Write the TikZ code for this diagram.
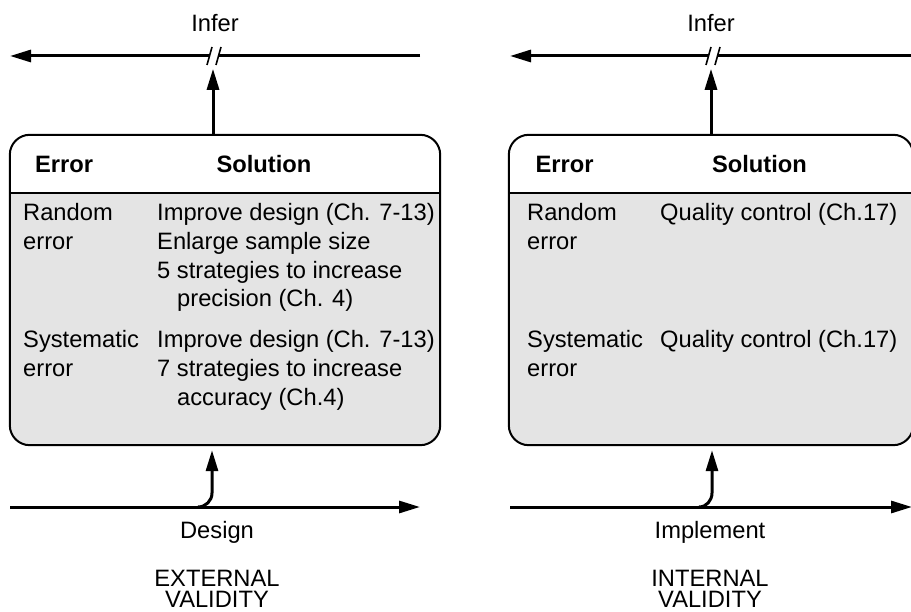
\documentclass[tikz,border=0pt]{standalone}
\usepackage{fontspec}
\setmainfont{Liberation Sans}
\usetikzlibrary{arrows.meta}
\definecolor{boxgray}{HTML}{E4E4E4}
\begin{document}
\begin{tikzpicture}[x=1pt,y=-1pt,
  txt/.style={font=\fontsize{23.7}{28.6}\selectfont, inner sep=0pt},
  hdr/.style={font=\fontsize{23.7}{28.6}\selectfont\bfseries, inner sep=0pt},
  valid/.style={font=\fontsize{23.7}{21}\selectfont, inner sep=0pt, align=center, anchor=south},
  flow/.style={line width=3pt, -{Triangle[length=21pt,width=12pt]}},
  boxshape/.style={fill=boxgray, rounded corners=20pt, inner sep=0pt},
  boxline/.style={line width=2pt, rounded corners=20pt},
  brk/.style={line width=1.6pt}
]
\clip (0,0) rectangle (911,612);

% ---------- left panel ----------
\node[boxshape, minimum width=430pt, minimum height=310pt] (lbox) at (225,290) {};
\begin{scope}
  \clip (lbox.north west) rectangle ([yshift=-58pt]lbox.north east);
  \fill[white, rounded corners=20pt] (lbox.north west) rectangle (lbox.south east);
\end{scope}
\draw[boxline] (lbox.north west) rectangle (lbox.south east);
\draw[line width=2pt] ([yshift=-58pt]lbox.north west) -- ([yshift=-58pt]lbox.north east);

\coordinate (LtopR) at (420,56);
\coordinate (LtopL) at (10,56);
\draw[flow] (LtopR) -- (LtopL);
\fill[white] (207,65) -- (212,47) -- (221,47) -- (216,65) -- cycle;
\draw[brk] (207,65) -- (212,47) (216,65) -- (221,47);
\draw[flow] ([xshift=-12pt]lbox.north) -- ++(0,-66);
\node[txt, anchor=base] (Linfer) at (215,32) {Infer};

\coordinate (LbotL) at (10,507);
\coordinate (LbotR) at (420,507);
\coordinate (LcurveS) at (198,507);
\draw[flow] (LbotL) -- (LbotR);
\draw[flow] (LcurveS) to[out=0,in=-90] (212,493) -- ([xshift=-13pt,yshift=-5pt]lbox.south);

\node[hdr, anchor=base] (Lerr) at (64,173) {Error};
\node[hdr, anchor=base] (Lsol) at (264,173) {Solution};
\node[txt, anchor=base west] (Lr1) at (23,221) {Random};
\node[txt, anchor=base west] (Lr2) at (23,249.6) {error};
\node[txt, anchor=base west] (Ls1) at (157,221) {Improve design (Ch. 7-13)};
\node[txt, anchor=base west] (Ls2) at (157,249.6) {Enlarge sample size};
\node[txt, anchor=base west] (Ls3) at (157,278.2) {5 strategies to increase};
\node[txt, anchor=base west] (Ls4) at (177,306.8) {precision (Ch. 4)};
\node[txt, anchor=base west] (Lq1) at (23,348) {Systematic};
\node[txt, anchor=base west] (Lq2) at (23,376.6) {error};
\node[txt, anchor=base west] (Lt1) at (157,348) {Improve design (Ch. 7-13)};
\node[txt, anchor=base west] (Lt2) at (157,376.6) {7 strategies to increase};
\node[txt, anchor=base west] (Lt3) at (177,405.2) {accuracy (Ch.4)};

\node[txt, anchor=base] (Ldesign) at (217,538) {Design};
\node[valid] (Lext) at (217,608) {EXTERNAL\\VALIDITY};

% ---------- right panel ----------
\node[boxshape, minimum width=404pt, minimum height=310pt] (rbox) at (711,290) {};
\begin{scope}
  \clip (rbox.north west) rectangle ([yshift=-58pt]rbox.north east);
  \fill[white, rounded corners=20pt] (rbox.north west) rectangle (rbox.south east);
\end{scope}
\draw[boxline] (rbox.north west) rectangle (rbox.south east);
\draw[line width=2pt] ([yshift=-58pt]rbox.north west) -- ([yshift=-58pt]rbox.north east);

\coordinate (RtopR) at (915,56);
\coordinate (RtopL) at (510,56);
\draw[flow] (RtopR) -- (RtopL);
\fill[white] (706,65) -- (711,47) -- (720,47) -- (715,65) -- cycle;
\draw[brk] (706,65) -- (711,47) (715,65) -- (720,47);
\draw[flow] (rbox.north) -- ++(0,-66);
\node[txt, anchor=base] (Rinfer) at (711,32) {Infer};

\coordinate (RbotL) at (510,507);
\coordinate (RbotR) at (912,507);
\coordinate (RcurveS) at (699,507);
\draw[flow] (RbotL) -- (RbotR);
\draw[flow] (RcurveS) to[out=0,in=-90] (712,493) -- ([xshift=1pt,yshift=-5pt]rbox.south);

\node[hdr, anchor=base] (Rerr) at (564.5,173) {Error};
\node[hdr, anchor=base] (Rsol) at (759.5,173) {Solution};
\node[txt, anchor=base west] (Rr1) at (527,221) {Random};
\node[txt, anchor=base west] (Rr2) at (527,249.6) {error};
\node[txt, anchor=base west] (Rs1) at (660,221) {Quality control (Ch.17)};
\node[txt, anchor=base west] (Rq1) at (527,348) {Systematic};
\node[txt, anchor=base west] (Rq2) at (527,376.6) {error};
\node[txt, anchor=base west] (Rt1) at (660,348) {Quality control (Ch.17)};

\node[txt, anchor=base] (Rimpl) at (710,538) {Implement};
\node[valid] (Rint) at (710,608) {INTERNAL\\VALIDITY};
\end{tikzpicture}
\end{document}
